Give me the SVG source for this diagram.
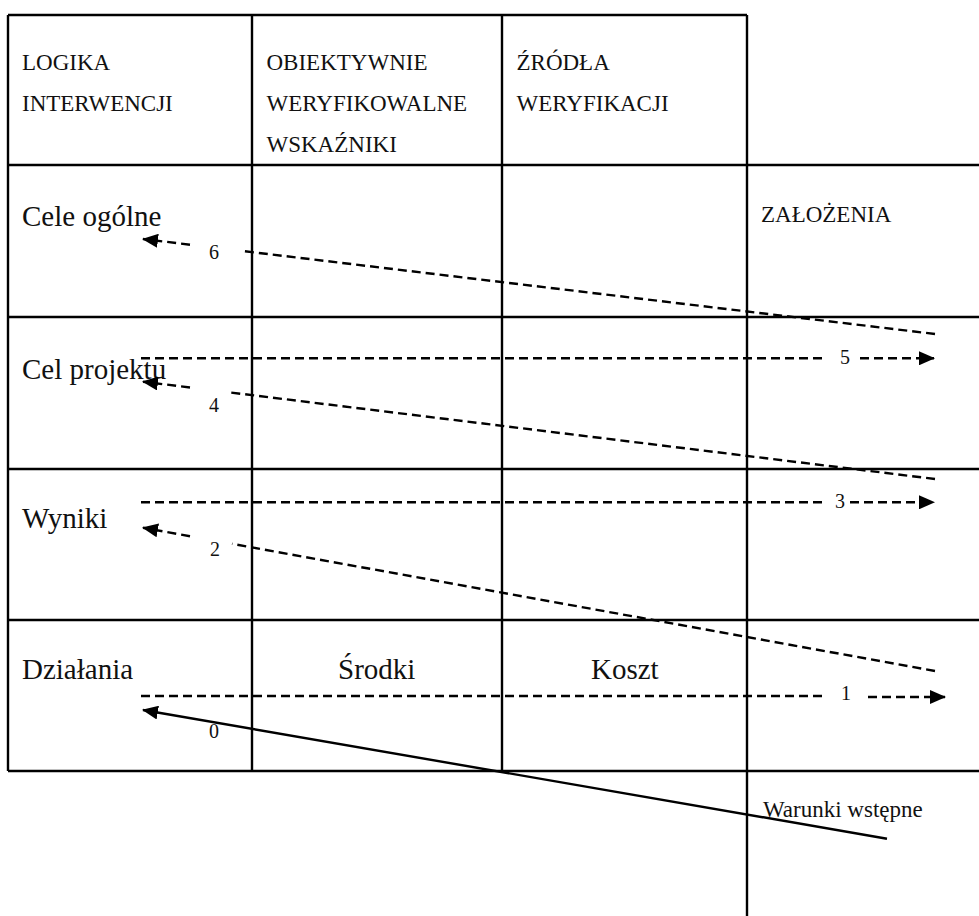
<svg xmlns="http://www.w3.org/2000/svg" width="979" height="916" viewBox="0 0 979 916">
  <style>
    .grid { stroke: #000; stroke-width: 2.4; fill: none; }
    .dash { stroke: #000; stroke-width: 2.4; fill: none; stroke-dasharray: 9 5; }
    .solid { stroke: #000; stroke-width: 2.4; fill: none; }
    text { font-family: "Liberation Serif", "Times New Roman", serif; fill: #111; }
    .hdr { font-size: 23px; }
    .row { font-size: 29px; }
    .num { font-size: 20px; }
  </style>
  <defs>
    <marker id="head" viewBox="0 0 16 14" markerWidth="16" markerHeight="14" refX="15" refY="7" orient="auto" markerUnits="userSpaceOnUse">
      <path d="M0,0 L16,7 L0,14 z" fill="#000"/>
    </marker>
  </defs>

  <rect width="979" height="916" fill="#fff"/>

  <!-- logframe grid -->
  <g id="grid" class="grid">
    <path d="M8,15 H747"/>
    <path d="M8,165 H979 M8,317 H979 M8,469 H979 M8,620 H979 M8,771 H979"/>
    <path d="M8,15 V771 M252,15 V771 M502,15 V771"/>
    <path d="M747,15 V916"/>
  </g>

  <!-- header cells -->
  <g id="hdr-logika">
    <text class="hdr" x="22" y="70">LOGIKA</text>
    <text class="hdr" x="22" y="110.5">INTERWENCJI</text>
  </g>
  <g id="hdr-wskazniki">
    <text class="hdr" x="266.5" y="70">OBIEKTYWNIE</text>
    <text class="hdr" x="266.5" y="110.5">WERYFIKOWALNE</text>
    <text class="hdr" x="266.5" y="151.5">WSKAŹNIKI</text>
  </g>
  <g id="hdr-zrodla">
    <text class="hdr" x="516.5" y="70">ŹRÓDŁA</text>
    <text class="hdr" x="516.5" y="110.5">WERYFIKACJI</text>
  </g>
  <g id="hdr-zalozenia">
    <text class="hdr" x="761" y="221.5">ZAŁOŻENIA</text>
  </g>

  <!-- row cells -->
  <g id="cele-ogolne"><text class="row" x="22" y="226">Cele ogólne</text></g>
  <g id="cel-projektu"><text class="row" x="22" y="379">Cel projektu</text></g>
  <g id="wyniki"><text class="row" x="22" y="528">Wyniki</text></g>
  <g id="dzialania"><text class="row" x="22" y="679">Działania</text></g>
  <g id="srodki"><text class="row" x="338" y="679">Środki</text></g>
  <g id="koszt"><text class="row" x="591" y="679">Koszt</text></g>
  <g id="warunki"><text class="hdr" x="763" y="817">Warunki wstępne</text></g>

  <!-- connectors -->
  <g id="connectors">
    <!-- 6: assumptions back to overall goals -->
    <path class="dash" d="M935,334 L240,250.7"/>
    <path class="dash" d="M190,244.7 L143,239" marker-end="url(#head)"/>
    <!-- 5: project purpose to assumptions -->
    <path class="dash" d="M141,358.3 H822"/>
    <path class="dash" d="M860,358.3 H934" marker-end="url(#head)"/>
    <!-- 4 -->
    <path class="dash" d="M935,479 L228,392.2"/>
    <path class="dash" d="M190,387.5 L143,381.7" marker-end="url(#head)"/>
    <!-- 3 -->
    <path class="dash" d="M141,502.3 H822"/>
    <path class="dash" d="M850,502.3 H934" marker-end="url(#head)"/>
    <!-- 2 -->
    <path class="dash" d="M935,671 L232,543.8"/>
    <path class="dash" d="M190,536.2 L143,527.7" marker-end="url(#head)"/>
    <!-- 1 -->
    <path class="dash" d="M141,696 H822"/>
    <path class="dash" d="M868,697 H945" marker-end="url(#head)"/>
    <!-- 0: preconditions to activities -->
    <path class="solid" d="M887,838.7 L143,710" marker-end="url(#head)"/>

    <text class="num" x="209" y="258.5">6</text>
    <text class="num" x="840" y="364">5</text>
    <text class="num" x="209" y="411.5">4</text>
    <text class="num" x="835" y="508">3</text>
    <text class="num" x="210" y="556">2</text>
    <text class="num" x="841" y="700">1</text>
    <text class="num" x="209" y="737.5">0</text>
  </g>
</svg>
